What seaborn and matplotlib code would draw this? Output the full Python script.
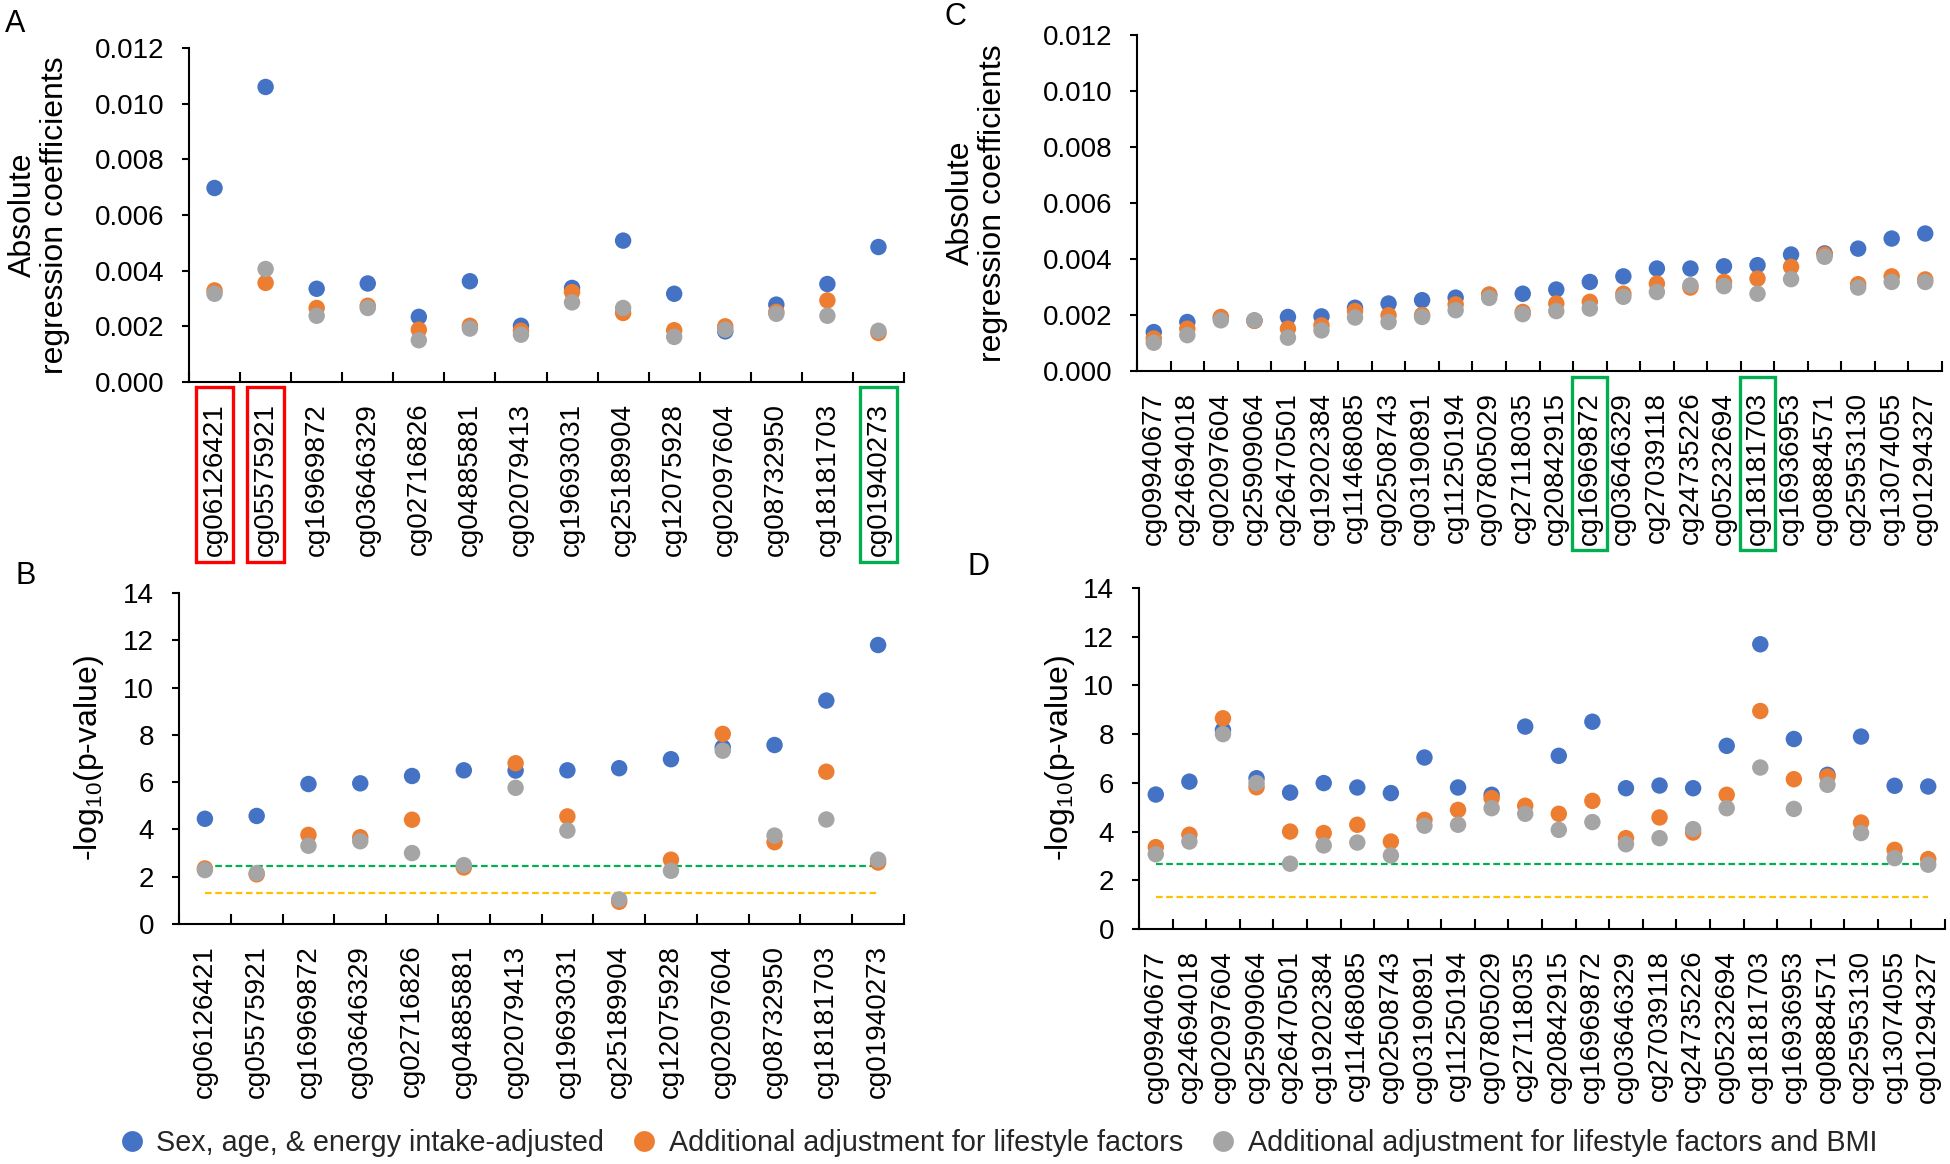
import numpy as np
import pandas as pd
import seaborn as sns
import matplotlib.pyplot as plt
from matplotlib.lines import Line2D
from matplotlib.patches import Rectangle
from matplotlib.ticker import FormatStrFormatter, MultipleLocator

sns.set_theme(style="ticks")
plt.rcParams["font.family"] = ["Liberation Sans", "DejaVu Sans"]
plt.rcParams["mathtext.fontset"] = "custom"
plt.rcParams["mathtext.rm"] = "Liberation Sans"
plt.rcParams["mathtext.default"] = "regular"

models = ["Sex, age, & energy intake-adjusted",
          "Additional adjustment for lifestyle factors",
          "Additional adjustment for lifestyle factors and BMI"]
colors = ["#4472C4", "#ED7D31", "#A5A5A5"]

# panels A/B
cpg_ab = ["cg06126421", "cg05575921", "cg16969872", "cg03646329", "cg02716826",
          "cg04885881", "cg02079413", "cg19693031", "cg25189904", "cg12075928",
          "cg02097604", "cg08732950", "cg18181703", "cg01940273"]
coef_a_m1 = [0.00697, 0.0106, 0.00335, 0.00354, 0.00234, 0.00362, 0.00202,
             0.00338, 0.00508, 0.00317, 0.00182, 0.00278, 0.00352, 0.00485]
coef_a_m2 = [0.00329, 0.00356, 0.00266, 0.00274, 0.00188, 0.00202, 0.00184,
             0.00323, 0.00248, 0.00186, 0.00200, 0.00252, 0.00293, 0.00176]
coef_a_m3 = [0.00317, 0.00406, 0.00238, 0.00266, 0.00150, 0.00192, 0.00170,
             0.00286, 0.00266, 0.00162, 0.00188, 0.00245, 0.00238, 0.00184]
logp_b_m1 = [4.45, 4.57, 5.92, 5.95, 6.26, 6.50, 6.49, 6.50, 6.59, 6.97, 7.47, 7.57, 9.45, 11.8]
logp_b_m2 = [2.35, 2.10, 3.77, 3.67, 4.41, 2.39, 6.80, 4.55, 0.94, 2.72, 8.04, 3.46, 6.44, 2.60]
logp_b_m3 = [2.28, 2.15, 3.31, 3.50, 3.00, 2.49, 5.76, 3.95, 1.04, 2.25, 7.33, 3.74, 4.42, 2.72]

# panels C/D
cpg_cd = ["cg09940677", "cg24694018", "cg02097604", "cg25909064", "cg26470501",
          "cg19202384", "cg11468085", "cg02508743", "cg03190891", "cg11250194",
          "cg07805029", "cg27118035", "cg20842915", "cg16969872", "cg03646329",
          "cg27039118", "cg24735226", "cg05232694", "cg18181703", "cg16936953",
          "cg08884571", "cg25953130", "cg13074055", "cg01294327"]
coef_c_m1 = [0.00139, 0.00175, 0.00190, 0.00180, 0.00193, 0.00195, 0.00226, 0.00241,
             0.00253, 0.00262, 0.00272, 0.00276, 0.00291, 0.00318, 0.00338, 0.00366,
             0.00366, 0.00374, 0.00378, 0.00416, 0.00420, 0.00437, 0.00473, 0.00491]
coef_c_m2 = [0.00116, 0.00151, 0.00193, 0.00179, 0.00151, 0.00163, 0.00214, 0.00199,
             0.00200, 0.00238, 0.00273, 0.00211, 0.00241, 0.00247, 0.00276, 0.00312,
             0.00298, 0.00318, 0.00330, 0.00372, 0.00416, 0.00310, 0.00338, 0.00327]
coef_c_m3 = [0.00101, 0.00128, 0.00181, 0.00181, 0.00119, 0.00145, 0.00191, 0.00175,
             0.00193, 0.00217, 0.00261, 0.00203, 0.00214, 0.00223, 0.00265, 0.00282,
             0.00306, 0.00303, 0.00276, 0.00328, 0.00408, 0.00298, 0.00318, 0.00318]
logp_d_m1 = [5.52, 6.05, 8.17, 6.19, 5.60, 5.99, 5.81, 5.58, 7.04, 5.81, 5.51, 8.31,
             7.11, 8.51, 5.78, 5.89, 5.78, 7.52, 11.69, 7.80, 6.33, 7.90, 5.88, 5.85]
logp_d_m2 = [3.36, 3.87, 8.65, 5.82, 4.00, 3.94, 4.28, 3.59, 4.48, 4.89, 5.37, 5.06,
             4.73, 5.26, 3.73, 4.58, 3.96, 5.51, 8.95, 6.15, 6.26, 4.37, 3.25, 2.87]
logp_d_m3 = [3.07, 3.59, 8.00, 5.99, 2.68, 3.43, 3.55, 3.02, 4.24, 4.28, 4.96, 4.73,
             4.07, 4.39, 3.48, 3.73, 4.10, 4.96, 6.63, 4.93, 5.92, 3.94, 2.91, 2.64]

nominal = -np.log10(0.05)
bonf_b = -np.log10(0.05 / len(cpg_ab))
bonf_d = -np.log10(0.05 / len(cpg_cd))

W, H = 1950, 1164
fig = plt.figure(figsize=(W / 100, H / 100), dpi=100)


def px_axes(l, r, t, b):
    return fig.add_axes([l / W, 1 - b / H, (r - l) / W, (b - t) / H])


def panel(ax, cpgs, vals, ymax, ystep, ylabel, fmt, label_x):
    n = len(cpgs)
    df = pd.DataFrame({"cpg": cpgs * 3,
                       "model": np.repeat(models, n),
                       "value": np.concatenate(vals)})
    sns.scatterplot(data=df, x="cpg", y="value", hue="model", hue_order=models,
                    palette=colors, s=140, linewidth=0, alpha=1, legend=False,
                    ax=ax, zorder=3, clip_on=False)
    ax.set_xlim(-0.5, n - 0.5)
    ax.set_ylim(0, ymax)
    ax.yaxis.set_major_locator(MultipleLocator(ystep))
    ax.yaxis.set_major_formatter(FormatStrFormatter(fmt))
    ax.set_xticks(range(n))
    ax.set_xticklabels(cpgs, rotation=90)
    ax.set_xticks(np.arange(n + 1) - 0.5, minor=True)
    ax.tick_params(axis="x", which="major", length=0, pad=15, labelsize=20, colors="black")
    ax.tick_params(axis="x", which="minor", direction="in", length=7, width=1.5, color="black")
    ax.tick_params(axis="y", direction="out", length=5, width=1.5, labelsize=20,
                   colors="black", pad=13)
    for s in ["top", "right"]:
        ax.spines[s].set_visible(False)
    for s in ["left", "bottom"]:
        ax.spines[s].set_linewidth(1.5)
        ax.spines[s].set_color("black")
    ax.set_xlabel("")
    ax.set_ylabel(ylabel, fontsize=23, color="black", linespacing=1.1)
    ax.yaxis.set_label_coords(label_x, 0.5)


def threshold(ax, n, y, color):
    ax.plot([0, n - 1], [y, y], color=color, lw=1.6, ls=(0, (3, 1.6)), zorder=2)


def box(ax, i, width, y0, y1, color):
    ax.add_patch(Rectangle((i - width / 2, y1), width, y0 - y1, fill=False,
                           edgecolor=color, lw=2.4, clip_on=False,
                           transform=ax.get_xaxis_transform()))


logp_label = "-log$_{10}$(p-value)"

axA = px_axes(189, 904, 48, 382)
panel(axA, cpg_ab, [coef_a_m1, coef_a_m2, coef_a_m3], 0.012, 0.002,
      "Absolute\nregression coefficients", "%.3f", -0.166)
for i in [0, 1]:
    box(axA, i, 0.72, -0.015, -0.539, "#FF0000")
box(axA, 13, 0.72, -0.015, -0.539, "#00B050")

axB = px_axes(179, 904, 593, 924)
panel(axB, cpg_ab, [logp_b_m1, logp_b_m2, logp_b_m3], 14, 2, logp_label, "%d", -0.101)
threshold(axB, len(cpg_ab), bonf_b, "#00B050")
threshold(axB, len(cpg_ab), nominal, "#FFC000")

axC = px_axes(1137, 1942, 35, 371)
panel(axC, cpg_cd, [coef_c_m1, coef_c_m2, coef_c_m3], 0.012, 0.002,
      "Absolute\nregression coefficients", "%.3f", -0.160)
for i in [13, 18]:
    box(axC, i, 1.04, -0.018, -0.533, "#00B050")

axD = px_axes(1139, 1945, 588, 929)
panel(axD, cpg_cd, [logp_d_m1, logp_d_m2, logp_d_m3], 14, 2, logp_label, "%d", -0.077)
threshold(axD, len(cpg_cd), bonf_d, "#00B050")
threshold(axD, len(cpg_cd), nominal, "#FFC000")

for letter, x, y in [("A", 5, 9), ("B", 15, 561), ("C", 945, 2), ("D", 967, 552)]:
    fig.text(x / W, 1 - y / H, letter, fontsize=22, ha="left", va="top", color="black")

handles = [Line2D([], [], ls="none", marker="o", markersize=15, color=c,
                  markeredgewidth=0) for c in colors]
fig.legend(handles, models, loc="center", bbox_to_anchor=(1000 / W, 1 - 1143 / H),
           ncol=3, frameon=False, fontsize=20.7, handlelength=0.6,
           handletextpad=0.55, columnspacing=1.1, borderaxespad=0, borderpad=0)

fig.savefig("out.png", dpi=100)
